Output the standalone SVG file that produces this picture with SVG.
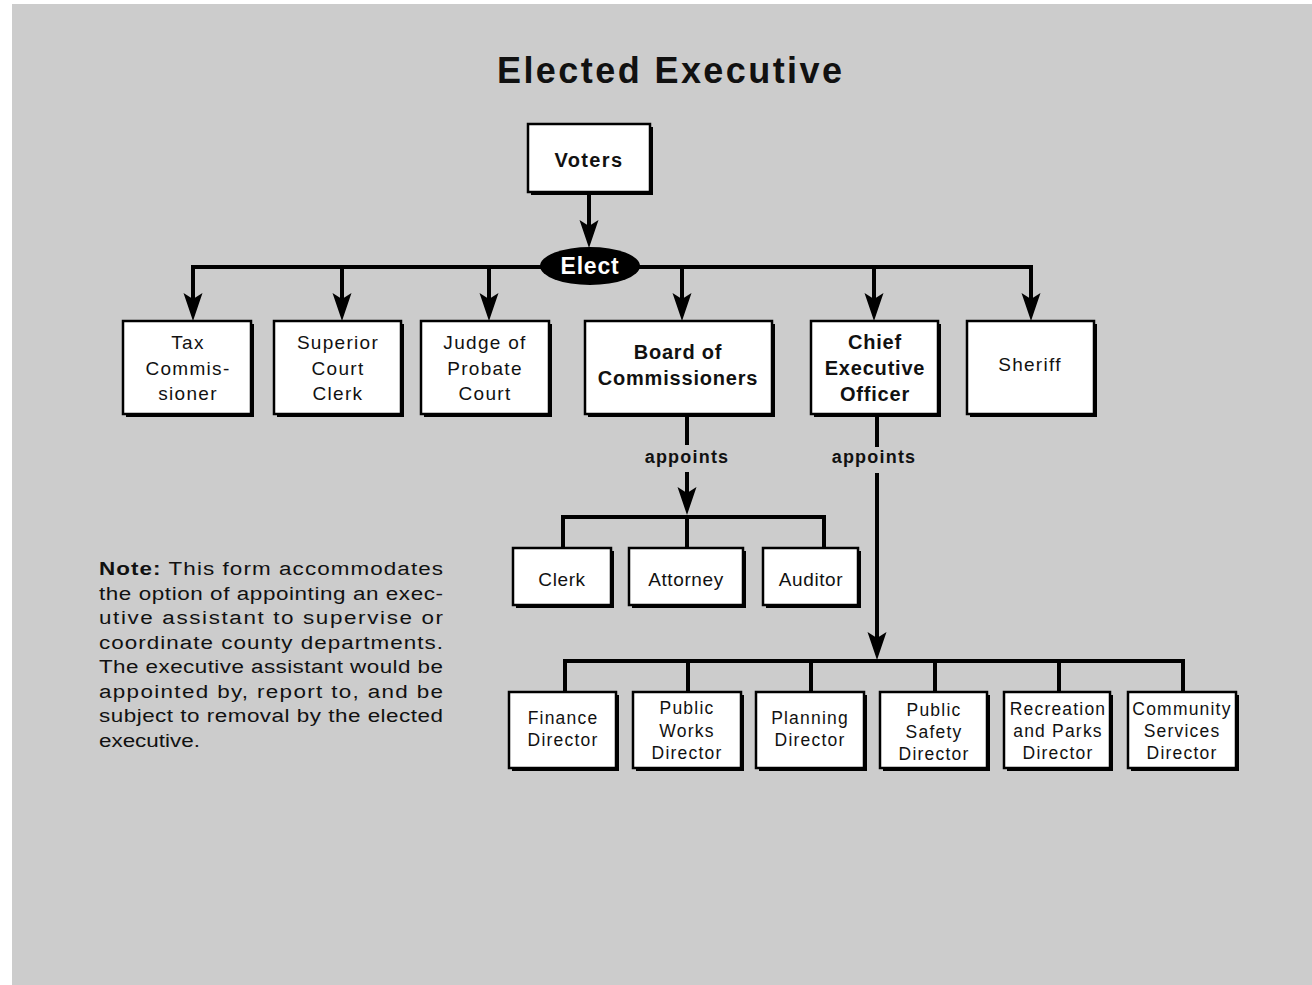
<svg xmlns="http://www.w3.org/2000/svg" width="1312" height="985" viewBox="0 0 1312 985">
<style>
.bg{fill:#cccccc}
.box{fill:#ffffff;stroke:#000000;stroke-width:2.5}
.sh{fill:#000000}
.ln{stroke:#000000;stroke-width:4;fill:none}
.t{font-family:"Liberation Sans",Arial,sans-serif;font-size:19px;fill:#111111;text-anchor:middle;letter-spacing:0.6px}
.w{letter-spacing:1.3px}
.s{font-size:17.5px;letter-spacing:1.2px}
.b{font-weight:bold;font-size:20px;letter-spacing:0.8px}
.note{font-family:"Liberation Sans",Arial,sans-serif;font-size:19px;fill:#111111}
</style>
<defs>
<marker id="arr" markerUnits="userSpaceOnUse" viewBox="-8 -11 30 22" refX="0" refY="0" markerWidth="30" markerHeight="22" orient="auto">
<path d="M22,0 L-6,-9.5 L0,0 L-6,9.5 Z" fill="#000000"/>
</marker>
</defs>
<rect class="bg" x="12" y="4" width="1300" height="981"/>
<text x="497" y="83" textLength="345" lengthAdjust="spacing" font-family="'Liberation Sans',Arial,sans-serif" font-weight="bold" font-size="36" fill="#111111">Elected Executive</text>

<g id="connectors">
<line class="ln" x1="589" y1="192" x2="589" y2="226" marker-end="url(#arr)"/>
<line class="ln" x1="193" y1="267" x2="1033" y2="267"/>
<line class="ln" x1="193" y1="265" x2="193" y2="299" marker-end="url(#arr)"/>
<line class="ln" x1="342" y1="267" x2="342" y2="299" marker-end="url(#arr)"/>
<line class="ln" x1="489" y1="267" x2="489" y2="299" marker-end="url(#arr)"/>
<line class="ln" x1="682" y1="267" x2="682" y2="299" marker-end="url(#arr)"/>
<line class="ln" x1="874" y1="267" x2="874" y2="299" marker-end="url(#arr)"/>
<line class="ln" x1="1031" y1="265" x2="1031" y2="299" marker-end="url(#arr)"/>
<line class="ln" x1="687" y1="415" x2="687" y2="445"/>
<line class="ln" x1="687" y1="472" x2="687" y2="493" marker-end="url(#arr)"/>
<line class="ln" x1="561" y1="517" x2="826" y2="517"/>
<line class="ln" x1="563" y1="515" x2="563" y2="548"/>
<line class="ln" x1="687" y1="515" x2="687" y2="548"/>
<line class="ln" x1="824" y1="515" x2="824" y2="548"/>
<line class="ln" x1="877" y1="415" x2="877" y2="447"/>
<line class="ln" x1="877" y1="473" x2="877" y2="638" marker-end="url(#arr)"/>
<line class="ln" x1="563" y1="661" x2="1185" y2="661"/>
<line class="ln" x1="565" y1="659" x2="565" y2="692"/>
<line class="ln" x1="688" y1="659" x2="688" y2="692"/>
<line class="ln" x1="811" y1="659" x2="811" y2="692"/>
<line class="ln" x1="935" y1="659" x2="935" y2="692"/>
<line class="ln" x1="1059" y1="659" x2="1059" y2="692"/>
<line class="ln" x1="1183" y1="659" x2="1183" y2="692"/>
<text class="t b" x="687" y="463" style="font-size:18px;letter-spacing:1.2px">appoints</text>
<text class="t b" x="874" y="463" style="font-size:18px;letter-spacing:1.2px">appoints</text>
</g>

<g id="voters">
<rect class="sh" x="531" y="127" width="122" height="68"/>
<rect class="box" x="528" y="124" width="122" height="68"/>
<text class="t b" x="589" y="167" style="letter-spacing:1.4px">Voters</text>
</g>

<g id="elect">
<ellipse cx="590" cy="266" rx="50" ry="19" fill="#000000"/>
<text class="t b" x="590" y="274" style="fill:#ffffff;font-size:23px">Elect</text>
</g>

<g id="tax">
<rect class="sh" x="126" y="324" width="128" height="93"/>
<rect class="box" x="123" y="321" width="128" height="93"/>
<text class="t w" x="188" y="349">Tax</text>
<text class="t w" x="188" y="375">Commis-</text>
<text class="t w" x="188" y="400">sioner</text>
</g>

<g id="superior">
<rect class="sh" x="277" y="324" width="127" height="93"/>
<rect class="box" x="274" y="321" width="127" height="93"/>
<text class="t w" x="338" y="349">Superior</text>
<text class="t w" x="338" y="375">Court</text>
<text class="t w" x="338" y="400">Clerk</text>
</g>

<g id="judge">
<rect class="sh" x="424" y="324" width="128" height="93"/>
<rect class="box" x="421" y="321" width="128" height="93"/>
<text class="t w" x="485" y="349">Judge of</text>
<text class="t w" x="485" y="375">Probate</text>
<text class="t w" x="485" y="400">Court</text>
</g>

<g id="board">
<rect class="sh" x="588" y="324" width="187" height="93"/>
<rect class="box" x="585" y="321" width="187" height="93"/>
<text class="t b" x="678" y="359">Board of</text>
<text class="t b" x="678" y="385">Commissioners</text>
</g>

<g id="chief">
<rect class="sh" x="814" y="324" width="127" height="93"/>
<rect class="box" x="811" y="321" width="127" height="93"/>
<text class="t b" x="875" y="349">Chief</text>
<text class="t b" x="875" y="375">Executive</text>
<text class="t b" x="875" y="401">Officer</text>
</g>

<g id="sheriff">
<rect class="sh" x="970" y="324" width="127" height="93"/>
<rect class="box" x="967" y="321" width="127" height="93"/>
<text class="t w" x="1030" y="371">Sheriff</text>
</g>

<g id="clerk">
<rect class="sh" x="516" y="551" width="98" height="57"/>
<rect class="box" x="513" y="548" width="98" height="57"/>
<text class="t" x="562" y="586">Clerk</text>
</g>

<g id="attorney">
<rect class="sh" x="632" y="551" width="114" height="57"/>
<rect class="box" x="629" y="548" width="114" height="57"/>
<text class="t" x="686" y="586">Attorney</text>
</g>

<g id="auditor">
<rect class="sh" x="766" y="551" width="95" height="57"/>
<rect class="box" x="763" y="548" width="95" height="57"/>
<text class="t" x="811" y="586">Auditor</text>
</g>

<g id="finance">
<rect class="sh" x="512" y="695" width="107" height="76"/>
<rect class="box" x="509" y="692" width="107" height="76"/>
<text class="t s" x="563" y="724">Finance</text>
<text class="t s" x="563" y="746">Director</text>
</g>

<g id="publicworks">
<rect class="sh" x="636" y="695" width="108" height="76"/>
<rect class="box" x="633" y="692" width="108" height="76"/>
<text class="t s" x="687" y="714">Public</text>
<text class="t s" x="687" y="737">Works</text>
<text class="t s" x="687" y="759">Director</text>
</g>

<g id="planning">
<rect class="sh" x="759" y="695" width="108" height="76"/>
<rect class="box" x="756" y="692" width="108" height="76"/>
<text class="t s" x="810" y="724">Planning</text>
<text class="t s" x="810" y="746">Director</text>
</g>

<g id="publicsafety">
<rect class="sh" x="883" y="695" width="107" height="76"/>
<rect class="box" x="880" y="692" width="107" height="76"/>
<text class="t s" x="934" y="716">Public</text>
<text class="t s" x="934" y="738">Safety</text>
<text class="t s" x="934" y="760">Director</text>
</g>

<g id="recreation">
<rect class="sh" x="1007" y="695" width="106" height="76"/>
<rect class="box" x="1004" y="692" width="106" height="76"/>
<text class="t s" x="1058" y="715">Recreation</text>
<text class="t s" x="1058" y="737">and Parks</text>
<text class="t s" x="1058" y="759">Director</text>
</g>

<g id="community">
<rect class="sh" x="1131" y="695" width="108" height="76"/>
<rect class="box" x="1128" y="692" width="108" height="76"/>
<text class="t s" x="1182" y="715">Community</text>
<text class="t s" x="1182" y="737">Services</text>
<text class="t s" x="1182" y="759">Director</text>
</g>

<g id="note" transform="translate(99,0) scale(1.18,1)">
<text class="note" x="0" y="575" textLength="291.5" lengthAdjust="spacing"><tspan font-weight="bold">Note:</tspan> This form accommodates</text>
<text class="note" x="0" y="599.6" textLength="291.5" lengthAdjust="spacing">the option of appointing an exec-</text>
<text class="note" x="0" y="624.1" textLength="291.5" lengthAdjust="spacing">utive assistant to supervise or</text>
<text class="note" x="0" y="648.7" textLength="291.5" lengthAdjust="spacing">coordinate county departments.</text>
<text class="note" x="0" y="673.3" textLength="291.5" lengthAdjust="spacing">The executive assistant would be</text>
<text class="note" x="0" y="697.9" textLength="291.5" lengthAdjust="spacing">appointed by, report to, and be</text>
<text class="note" x="0" y="722.4" textLength="291.5" lengthAdjust="spacing">subject to removal by the elected</text>
<text class="note" x="0" y="747">executive.</text>
</g>
</svg>
